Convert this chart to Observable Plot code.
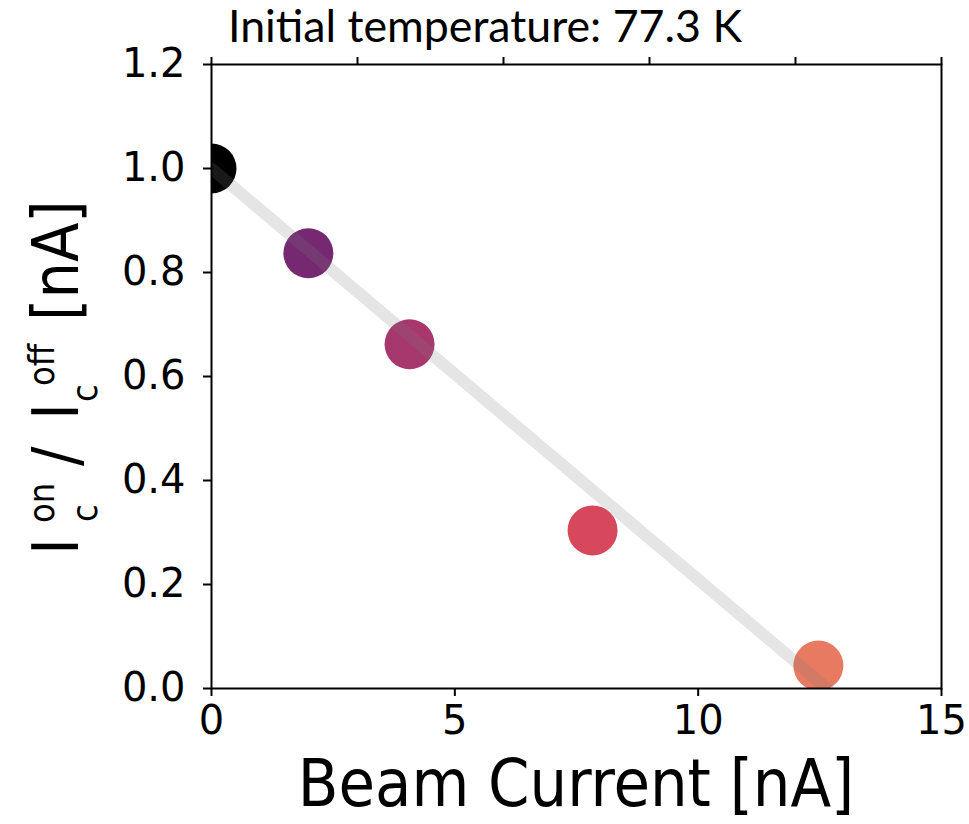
<!DOCTYPE html>
<html><head><meta charset="utf-8">
<script src="https://cdn.jsdelivr.net/npm/d3@7"></script>
<script src="https://cdn.jsdelivr.net/npm/@observablehq/plot@0.6"></script>
<style>body{margin:0;background:#fff;} svg{display:block;}</style>
</head><body><div id="chart"></div>
<script>
// Data
const beamCurrent = [0.0, 1.99, 4.07, 7.83, 12.47];
const ratio = [1.0, 0.837, 0.662, 0.304, 0.044];
const pointColors = ["#000000", "#762971", "#a6386d", "#d7485d", "#e77a61"];
const fitX = [0, 12.65];
const fitY = [1.0, 0.0];
const xTicks = [0, 5, 10, 15];
const xTopTicks = [0, 3, 6, 9, 12, 15];
const yTicks = [0, 0.2, 0.4, 0.6, 0.8, 1.0, 1.2];
const titleText = "Initial temperature: 77.3 K";
const xLabel = "Beam Current [nA]";

const points = beamCurrent.map((x, i) => ({x, y: ratio[i], c: pointColors[i]}));
const fit = fitX.map((x, i) => ({x, y: fitY[i]}));

const plot = Plot.plot({
  width: 969, height: 824,
  marginLeft: 211, marginRight: 28, marginTop: 64, marginBottom: 136,
  x: {domain: [0, 15]},
  y: {domain: [0, 1.2]},
  color: {type: "identity"},
  style: {fontFamily: "DejaVu Sans", fontSize: "40px", color: "black", background: "white", overflow: "visible"},
  marks: [
    Plot.dot(points, {x: "x", y: "y", r: 25, fill: "c", stroke: null, clip: true}),
    Plot.line(fit, {x: "x", y: "y", stroke: "#7f7f7f", strokeOpacity: 0.2, strokeWidth: 12, clip: true}),
    Plot.frame({stroke: "black", strokeWidth: 2}),
    Plot.axisX({ticks: xTicks, tickSize: 8, tickPadding: 9, strokeWidth: 2, fontSize: 40, label: null}),
    Plot.axisX({anchor: "top", ticks: xTopTicks, tickSize: 8, strokeWidth: 2, tickFormat: () => "", label: null}),
    Plot.axisY({ticks: yTicks, tickSize: 8, tickPadding: 18, strokeWidth: 2, tickFormat: d3.format(".1f"), fontSize: 40, label: null})
  ]
});

const svg = d3.select(plot);
const condensed = "'DejaVu Sans Condensed', 'DejaVu Sans', sans-serif";

svg.append("text")
  .attr("x", 485).attr("y", 42)
  .attr("text-anchor", "middle")
  .attr("font-family", "Lato, 'Open Sans', sans-serif")
  .attr("font-size", 44)
  .attr("textLength", 514).attr("lengthAdjust", "spacingAndGlyphs")
  .attr("fill", "black")
  .text(titleText);

svg.append("text")
  .attr("x", 576).attr("y", 806)
  .attr("text-anchor", "middle")
  .attr("font-family", condensed).attr("font-stretch", "condensed")
  .attr("font-size", 66)
  .attr("fill", "black")
  .text(xLabel);

// y label pieces: [text, start position along the axis (page y), baseline (page x), size]
const yLabelParts = [
  ["I", 555, 78, 64],
  ["on", 523, 54, 36],
  ["c", 522, 97, 36],
  ["/", 466, 78, 64],
  ["I", 420, 78, 64],
  ["off", 386, 54, 36],
  ["c", 402, 97, 36],
  ["[nA]", 321, 78, 64]
];
for (const [t, py, px, s] of yLabelParts) {
  svg.append("text")
    .attr("transform", `translate(${px},${py}) rotate(-90)`)
    .attr("text-anchor", "start")
    .attr("font-family", condensed).attr("font-stretch", "condensed")
    .attr("font-size", s)
    .attr("fill", "black")
    .text(t);
}

document.getElementById("chart").appendChild(plot);
</script>
</body></html>
